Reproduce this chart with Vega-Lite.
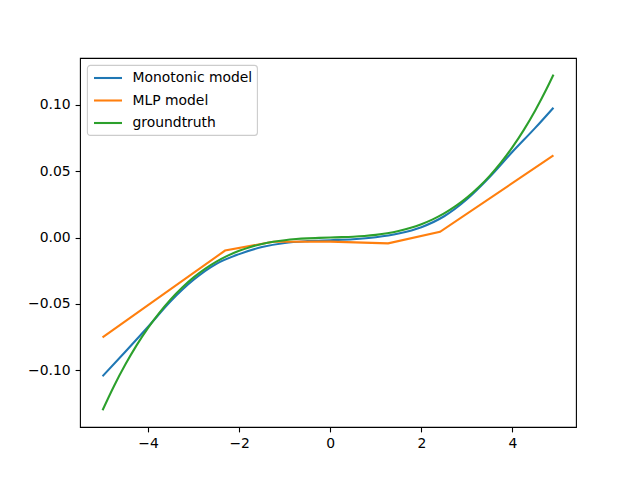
{
  "$schema": "https://vega.github.io/schema/vega-lite/v6.json",
  "width": 496,
  "height": 369,
  "autosize": {"type": "none"},
  "padding": {"left": 80, "top": 58, "right": 64, "bottom": 53},
  "background": "white",
  "config": {
    "view": {"stroke": "black", "strokeWidth": 1.1},
    "font": "DejaVu Sans",
    "axis": {
      "domain": false,
      "grid": false,
      "tickColor": "black",
      "tickWidth": 1.1,
      "tickSize": 4.9,
      "labelFontSize": 13.9,
      "labelColor": "black",
      "labelPadding": 4.9,
      "title": null
    },
    "legend": {
      "orient": "top-left",
      "offset": 7,
      "padding": 4.5,
      "rowPadding": 6.5,
      "symbolType": "M-2,0H2",
      "symbolSize": 196,
      "symbolStrokeWidth": 2.08,
      "symbolOffset": 8,
      "labelOffset": 16,
      "labelFontSize": 13.9,
      "labelColor": "black",
      "strokeColor": "#cccccc",
      "strokeWidth": 1.1,
      "fillColor": "rgba(255,255,255,0.8)",
      "cornerRadius": 3,
      "title": null
    }
  },
  "datasets": {
    "mono": [
      {"x": -5, "y": -0.1044, "series": "Monotonic model"},
      {"x": -4.5, "y": -0.086, "series": "Monotonic model"},
      {"x": -4, "y": -0.0672, "series": "Monotonic model"},
      {"x": -3.5, "y": -0.0478, "series": "Monotonic model"},
      {"x": -3, "y": -0.0318, "series": "Monotonic model"},
      {"x": -2.5, "y": -0.0198, "series": "Monotonic model"},
      {"x": -2, "y": -0.0125, "series": "Monotonic model"},
      {"x": -1.5, "y": -0.0072, "series": "Monotonic model"},
      {"x": -1, "y": -0.0041, "series": "Monotonic model"},
      {"x": -0.5, "y": -0.0027, "series": "Monotonic model"},
      {"x": 0, "y": -0.002, "series": "Monotonic model"},
      {"x": 0.5, "y": -0.0013, "series": "Monotonic model"},
      {"x": 1, "y": 0.0002, "series": "Monotonic model"},
      {"x": 1.5, "y": 0.003, "series": "Monotonic model"},
      {"x": 2, "y": 0.0078, "series": "Monotonic model"},
      {"x": 2.5, "y": 0.016, "series": "Monotonic model"},
      {"x": 3, "y": 0.0288, "series": "Monotonic model"},
      {"x": 3.5, "y": 0.0455, "series": "Monotonic model"},
      {"x": 4, "y": 0.0645, "series": "Monotonic model"},
      {"x": 4.5, "y": 0.0825, "series": "Monotonic model"},
      {"x": 4.9, "y": 0.0977, "series": "Monotonic model"}
    ],
    "mlp": [
      {"x": -5, "y": -0.0752, "series": "MLP model"},
      {"x": -2.31, "y": -0.0098, "series": "MLP model"},
      {"x": -1.25, "y": -0.0032, "series": "MLP model"},
      {"x": 0, "y": -0.0031, "series": "MLP model"},
      {"x": 1.27, "y": -0.0044, "series": "MLP model"},
      {"x": 2.41, "y": 0.0043, "series": "MLP model"},
      {"x": 4.9, "y": 0.0618, "series": "MLP model"}
    ],
    "truth": [
      {"x": -5, "y": -0.13, "series": "groundtruth"},
      {"x": -4.75, "y": -0.111922, "series": "groundtruth"},
      {"x": -4.5, "y": -0.095625, "series": "groundtruth"},
      {"x": -4.25, "y": -0.081016, "series": "groundtruth"},
      {"x": -4, "y": -0.068, "series": "groundtruth"},
      {"x": -3.75, "y": -0.056484, "series": "groundtruth"},
      {"x": -3.5, "y": -0.046375, "series": "groundtruth"},
      {"x": -3.25, "y": -0.037578, "series": "groundtruth"},
      {"x": -3, "y": -0.03, "series": "groundtruth"},
      {"x": -2.75, "y": -0.023547, "series": "groundtruth"},
      {"x": -2.5, "y": -0.018125, "series": "groundtruth"},
      {"x": -2.25, "y": -0.013641, "series": "groundtruth"},
      {"x": -2, "y": -0.01, "series": "groundtruth"},
      {"x": -1.75, "y": -0.007109, "series": "groundtruth"},
      {"x": -1.5, "y": -0.004875, "series": "groundtruth"},
      {"x": -1.25, "y": -0.003203, "series": "groundtruth"},
      {"x": -1, "y": -0.002, "series": "groundtruth"},
      {"x": -0.75, "y": -0.001172, "series": "groundtruth"},
      {"x": -0.5, "y": -0.000625, "series": "groundtruth"},
      {"x": -0.25, "y": -0.000266, "series": "groundtruth"},
      {"x": 0, "y": 0, "series": "groundtruth"},
      {"x": 0.25, "y": 0.000266, "series": "groundtruth"},
      {"x": 0.5, "y": 0.000625, "series": "groundtruth"},
      {"x": 0.75, "y": 0.001172, "series": "groundtruth"},
      {"x": 1, "y": 0.002, "series": "groundtruth"},
      {"x": 1.25, "y": 0.003203, "series": "groundtruth"},
      {"x": 1.5, "y": 0.004875, "series": "groundtruth"},
      {"x": 1.75, "y": 0.007109, "series": "groundtruth"},
      {"x": 2, "y": 0.01, "series": "groundtruth"},
      {"x": 2.25, "y": 0.013641, "series": "groundtruth"},
      {"x": 2.5, "y": 0.018125, "series": "groundtruth"},
      {"x": 2.75, "y": 0.023547, "series": "groundtruth"},
      {"x": 3, "y": 0.03, "series": "groundtruth"},
      {"x": 3.25, "y": 0.037578, "series": "groundtruth"},
      {"x": 3.5, "y": 0.046375, "series": "groundtruth"},
      {"x": 3.75, "y": 0.056484, "series": "groundtruth"},
      {"x": 4, "y": 0.068, "series": "groundtruth"},
      {"x": 4.25, "y": 0.081016, "series": "groundtruth"},
      {"x": 4.5, "y": 0.095625, "series": "groundtruth"},
      {"x": 4.75, "y": 0.111922, "series": "groundtruth"},
      {"x": 4.9, "y": 0.122549, "series": "groundtruth"}
    ]
  },
  "encoding": {
    "x": {
      "field": "x",
      "type": "quantitative",
      "scale": {"domain": [-5.495, 5.395], "nice": false, "zero": false},
      "axis": {"values": [-4, -2, 0, 2, 4], "format": "d"}
    },
    "y": {
      "field": "y",
      "type": "quantitative",
      "scale": {"domain": [-0.1426, 0.1351], "nice": false, "zero": false},
      "axis": {"values": [-0.1, -0.05, 0, 0.05, 0.1], "format": ".2f"}
    },
    "color": {
      "field": "series",
      "type": "nominal",
      "scale": {
        "domain": ["Monotonic model", "MLP model", "groundtruth"],
        "range": ["#1f77b4", "#ff7f0e", "#2ca02c"]
      }
    }
  },
  "layer": [
    {"data": {"name": "mono"}, "mark": {"type": "line", "strokeWidth": 2.08, "interpolate": "monotone"}},
    {"data": {"name": "mlp"}, "mark": {"type": "line", "strokeWidth": 2.08}},
    {"data": {"name": "truth"}, "mark": {"type": "line", "strokeWidth": 2.08, "interpolate": "monotone"}}
  ]
}
